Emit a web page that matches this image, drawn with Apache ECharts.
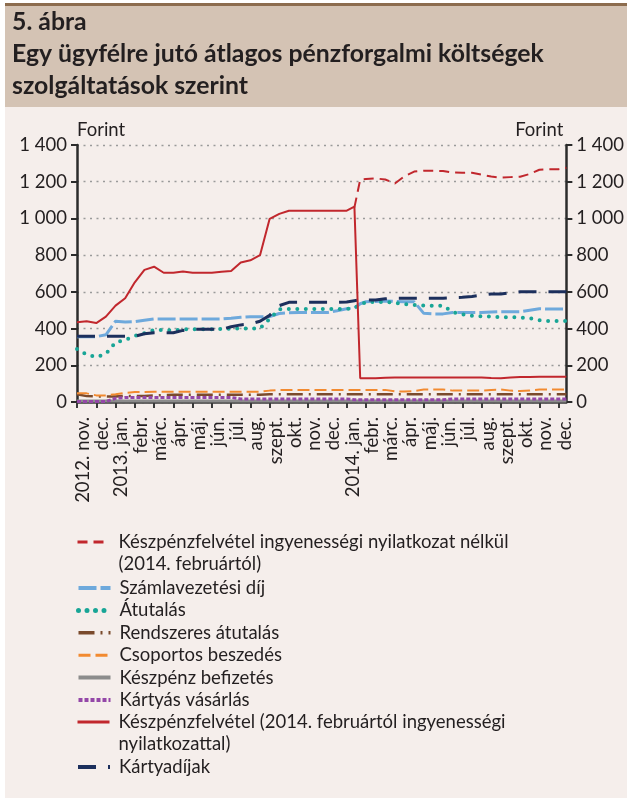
<!DOCTYPE html>
<html>
<head>
<meta charset="utf-8">
<script src="https://cdn.jsdelivr.net/npm/echarts@6/dist/echarts.min.js"></script>
<style>
  html, body { margin: 0; padding: 0; background: #fff; }
  #chart { width: 627px; height: 798px; }
</style>
</head>
<body>
<div id="chart"></div>
<script>
// month position of each point (0 = 2012 Nov 1)
const pos = [0, 0.5, 1, 1.5, 2, 2.5, 3, 3.5, 4, 4.5, 5, 5.5, 6, 6.5, 7, 7.5, 8, 8.5, 9, 9.5,
  10, 10.5, 11, 11.5, 12, 12.5, 13, 13.5, 14, 14.4, 14.7, 15, 15.5, 16, 16.5, 17, 17.5, 18, 18.5,
  19, 19.5, 20, 20.5, 21, 21.5, 22, 22.5, 23, 23.5, 24, 24.5, 25, 25.4];

const monthLabels = ['2012. nov.', 'dec.', '2013. jan.', 'febr.', 'márc.', 'ápr.', 'máj.', 'jún.', 'júl.',
  'aug.', 'szept.', 'okt.', 'nov.', 'dec.', '2014. jan.', 'febr.', 'márc.', 'ápr.', 'máj.', 'jún.',
  'júl.', 'aug.', 'szept.', 'okt.', 'nov.', 'dec.'];

const yTicks = [0, 200, 400, 600, 800, 1000, 1200, 1400];

const names = [
  'Készpénzfelvétel ingyenességi nyilatkozat nélkül (2014. februártól)',
  'Számlavezetési díj',
  'Átutalás',
  'Rendszeres átutalás',
  'Csoportos beszedés',
  'Készpénz befizetés',
  'Kártyás vásárlás',
  'Készpénzfelvétel (2014. februártól ingyenességi nyilatkozattal)',
  'Kártyadíjak'
];

const cashNoDecl = [null, null, null, null, null, null, null, null, null, null, null, null, null, null,
  null, null, null, null, null, null, null, null, null, null, null, null, null, null, null,
  1060, 1212, 1215, 1218, 1212, 1190, 1230, 1255, 1260, 1260, 1258, 1250, 1249, 1249, 1238, 1228,
  1222, 1225, 1227, 1242, 1265, 1268, 1268, 1276];
const accountFee = [356, 356, 356, 366, 440, 436, 438, 445, 452, 452, 452, 452, 452, 452, 452, 452,
  456, 462, 465, 465, 465, 482, 486, 487, 487, 487, 487, 497, 508, 512, 535, 546, 548, 550, 548, 546,
  546, 483, 480, 480, 487, 488, 488, 487, 490, 492, 492, 492, 500, 508, 506, 506, 506];
const transfer = [289, 258, 245, 262, 325, 338, 360, 375, 392, 392, 390, 396, 396, 396, 396, 398,
  400, 401, 401, 401, 452, 505, 507, 507, 507, 507, 507, 507, 507, 512, 530, 543, 545, 545, 540, 533,
  528, 525, 525, 525, 490, 478, 470, 467, 465, 462, 462, 460, 456, 445, 441, 441, 441];
const standingOrder = [42, 32, 30, 30, 30, 33, 33, 33, 35, 38, 40, 40, 40, 40, 40, 40, 40, 40, 40, 40,
  42, 42, 42, 42, 42, 42, 42, 42, 42, 42, 42, 42, 42, 42, 42, 42, 42, 42, 42, 42, 42, 42, 42, 42, 42,
  42, 42, 42, 42, 42, 42, 42, 42];
const directDebit = [47, 47, 36, 36, 42, 50, 54, 55, 56, 56, 56, 56, 56, 56, 56, 56, 56, 56, 56, 56,
  62, 66, 66, 66, 66, 66, 66, 66, 66, 66, 66, 66, 66, 66, 58, 57, 60, 68, 68, 68, 62, 62, 62, 62, 66,
  68, 62, 60, 62, 68, 68, 68, 68];
const cashDeposit = [5, 5, 5, 5, 5, 5, 5, 5, 5, 5, 5, 5, 5, 5, 5, 5, 5, 5, 5, 5, 5, 5, 5, 5, 5, 5, 5,
  5, 5, 5, 5, 5, 5, 5, 5, 5, 5, 5, 5, 5, 5, 5, 5, 5, 5, 5, 5, 5, 5, 5, 5, 5, 5];
const cardPurchase = [3, 3, 3, 3, 20, 25, 25, 25, 25, 25, 25, 25, 25, 25, 25, 25, 25, 17, 17, 17, 17,
  17, 17, 17, 17, 17, 17, 17, 17, 12, 12, 12, 12, 12, 12, 12, 12, 12, 12, 12, 17, 17, 17, 17, 17, 17,
  17, 17, 17, 17, 17, 17, 17];
const cashWithDecl = [434, 440, 430, 465, 525, 565, 652, 720, 737, 704, 704, 711, 704, 704, 704, 710,
  713, 760, 772, 800, 998, 1025, 1042, 1042, 1042, 1042, 1042, 1042, 1042, 1064, 129, 130, 130, 132,
  134, 134, 134, 134, 134, 134, 134, 134, 134, 134, 131, 129, 134, 136, 136, 137, 137, 137, 138];
const cardFee = [358, 358, 358, 358, 358, 358, 358, 372, 377, 377, 377, 390, 396, 396, 396, 396, 410,
  420, 425, 440, 472, 525, 543, 543, 543, 543, 543, 543, 545, 552, 556, 556, 556, 562, 565, 565, 565,
  565, 565, 565, 568, 570, 575, 582, 588, 588, 595, 600, 601, 601, 601, 601, 601];

const FONT = 'Lato';
const TXT = '#231f20';

function pts(arr) {
  return pos.map((p, i) => [p, arr[i]]);
}
function fmtNum(v) {
  return String(v).replace(/\B(?=(\d{3})+(?!\d))/g, ' ');
}
// two-line legend entries get an empty first line so the icon sits on the first text line
function legendName(n) {
  if (n === names[0]) return '\nKészpénzfelvétel ingyenességi nyilatkozat nélkül\n(2014. februártól)';
  if (n === names[7]) return '\nKészpénzfelvétel (2014. februártól ingyenességi\nnyilatkozattal)';
  return n;
}

const chart = echarts.init(document.getElementById('chart'));

const seriesStyle = [
  { data: cashNoDecl, color: '#c1272d', width: 2, type: [10, 6] },
  { data: accountFee, color: '#6ea9dc', width: 3, type: [18, 4] },
  { data: transfer, color: '#18a596', width: 4, type: [0, 8.5], cap: 'round' },
  { data: standingOrder, color: '#7a4a2c', width: 2.5, type: [16, 6, 2, 6] },
  { data: directDebit, color: '#f28a30', width: 2, type: [12, 5] },
  { data: cashDeposit, color: '#8c8c8c', width: 3, type: 'solid' },
  { data: cardPurchase, color: '#9447a8', width: 3, type: [4, 2] },
  { data: cashWithDecl, color: '#c1272d', width: 2, type: 'solid' },
  { data: cardFee, color: '#1c2f5c', width: 3, type: [18, 12] }
];

const legendBase = {
  orient: 'vertical',
  left: 76,
  padding: 0,
  itemWidth: 32,
  itemHeight: 14,
  itemGap: 0,
  selectedMode: false,
  formatter: legendName,
  itemStyle: { opacity: 0 },
  textStyle: { fontFamily: FONT, fontSize: 18.5, color: TXT, lineHeight: 22.4, padding: [0, 0, 0, 4] }
};
function legendItems(from, to) {
  return names.slice(from, to).map((n, k) => ({
    name: n,
    lineStyle: { width: seriesStyle[from + k].width + 1 }
  }));
}

const option = {
  backgroundColor: '#fff',
  animation: false,
  graphic: [
    { type: 'rect', z: -10, shape: { x: 5, y: 3, width: 622, height: 3 }, style: { fill: '#8c6c4e' } },
    { type: 'rect', z: -10, shape: { x: 5, y: 6, width: 622, height: 101 }, style: { fill: '#d4c3b4' } },
    { type: 'rect', z: -10, shape: { x: 5, y: 107, width: 622, height: 691 }, style: { fill: '#f5eeeb' } }
  ],
  title: {
    text: '5. ábra\nEgy ügyfélre jutó átlagos pénzforgalmi költségek\nszolgáltatások szerint',
    left: 12,
    top: 6,
    padding: 0,
    textStyle: { fontFamily: FONT, fontSize: 24.8, fontWeight: 'bold', color: TXT, lineHeight: 32 }
  },
  legend: [
    Object.assign({}, legendBase, { top: 508.4, data: legendItems(0, 1) }),
    Object.assign({}, legendBase, { top: 576.8, data: legendItems(1, 7) }),
    Object.assign({}, legendBase, { top: 688.4, data: legendItems(7, 8) }),
    Object.assign({}, legendBase, { top: 755.8, data: legendItems(8, 9) })
  ],
  grid: { left: 77, right: 56, top: 145, bottom: 396, containLabel: false },
  xAxis: {
    type: 'value',
    min: 0,
    max: 25.4,
    interval: 1,
    splitLine: { show: false },
    axisLine: { lineStyle: { color: '#3a3a3a', width: 2.5 } },
    axisTick: { length: 6, lineStyle: { color: '#3a3a3a', width: 2 }, customValues: monthLabels.map((_, i) => i) },
    axisLabel: {
      rotate: 90,
      margin: 15,
      fontFamily: FONT,
      fontSize: 18.5,
      color: TXT,
      verticalAlign: 'top',
      lineHeight: 12,
      customValues: monthLabels.map((_, i) => i),
      formatter: v => {
        const r = Math.round(v);
        return Math.abs(v - r) < 1e-6 && monthLabels[r] ? monthLabels[r] : '';
      }
    }
  },
  yAxis: [
    {
      type: 'value', min: yTicks[0], max: yTicks[yTicks.length - 1], interval: 200,
      name: 'Forint', nameLocation: 'end', nameGap: 5,
      nameTextStyle: { fontFamily: FONT, fontSize: 18.5, color: TXT, align: 'left', verticalAlign: 'bottom' },
      axisLine: { show: true, lineStyle: { color: '#2b2b2b', width: 2.5 } },
      axisTick: { show: true, length: 6, lineStyle: { color: '#2b2b2b', width: 2 } },
      axisLabel: { margin: 10, fontFamily: FONT, fontSize: 18.5, color: TXT, formatter: fmtNum },
      splitLine: { show: true, lineStyle: { color: '#9a9a9a', width: 1.3, type: [2, 4.5] } }
    },
    {
      type: 'value', position: 'right', min: yTicks[0], max: yTicks[yTicks.length - 1], interval: 200,
      name: 'Forint', nameLocation: 'end', nameGap: 5,
      nameTextStyle: { fontFamily: FONT, fontSize: 18.5, color: TXT, align: 'right', verticalAlign: 'bottom', padding: [0, 3, 0, 0] },
      axisLine: { show: true, lineStyle: { color: '#2b2b2b', width: 2.5 } },
      axisTick: { show: true, length: 6, lineStyle: { color: '#2b2b2b', width: 2 } },
      axisLabel: { margin: 10, fontFamily: FONT, fontSize: 18.5, color: TXT, formatter: fmtNum },
      splitLine: { show: false }
    }
  ],
  series: seriesStyle.map((s, i) => ({
    name: names[i],
    type: 'line',
    showSymbol: false,
    symbol: 'none',
    symbolSize: 0,
    connectNulls: false,
    data: pts(s.data),
    z: i === 7 || i === 0 ? 4 : 3,
    lineStyle: { color: s.color, width: s.width, type: s.type, cap: s.cap || 'butt' },
    itemStyle: { color: s.color }
  }))
};

chart.setOption(option);
window.addEventListener('resize', function () {
  chart.resize();
});
</script>
</body>
</html>
